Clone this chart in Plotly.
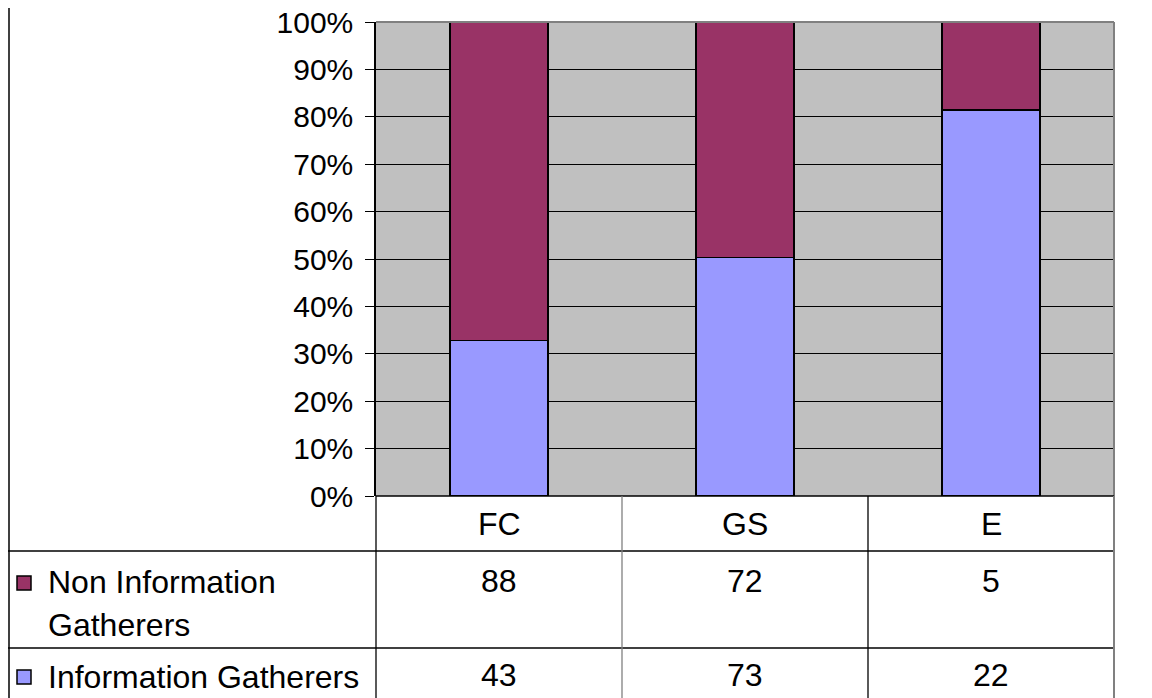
import plotly.graph_objects as go

categories = ["FC", "GS", "E"]
series_names = ["Information Gatherers", "Non Information Gatherers"]
info_gatherers = [43, 73, 22]
non_info_gatherers = [88, 72, 5]
y_ticks = [0, 10, 20, 30, 40, 50, 60, 70, 80, 90, 100]

COL_INFO = "#9999FF"
COL_NON = "#993366"
FONT = "Liberation Sans, Arial, sans-serif"
FS_TICK = 30
FS_TAB = 32

W, H = 1152, 698
OFF = 8  # page body margin
def px(x):
    return (x - OFF) / W
def py(y):
    return 1 - (y - OFF) / H

fig = go.Figure()
fig.add_trace(go.Bar(x=categories, y=info_gatherers, name=series_names[0],
                     marker=dict(color=COL_INFO, line=dict(color="black", width=1.5)),
                     width=0.4))
fig.add_trace(go.Bar(x=categories, y=non_info_gatherers, name=series_names[1],
                     marker=dict(color=COL_NON, line=dict(color="black", width=1.5)),
                     width=0.4))

x0, x1 = 376, 1114
ytop, ybot = 22, 496

fig.update_layout(
    width=W, height=H,
    margin=dict(l=0, r=0, t=0, b=0, autoexpand=False),
    paper_bgcolor="white",
    plot_bgcolor="#C0C0C0",
    barmode="stack",
    barnorm="percent",
    showlegend=False,
    font=dict(family=FONT, size=FS_TICK, color="black"),
    xaxis=dict(domain=[px(x0), px(x1)], showticklabels=False, ticks="",
               showgrid=False, zeroline=False, showline=False,
               range=[-0.5, 2.5], fixedrange=True),
    yaxis=dict(domain=[py(ybot), py(ytop)], range=[0, 100], tickvals=y_ticks,
               ticktext=[f"{v}%" for v in y_ticks],
               ticks="outside", ticklen=9, tickcolor="black", tickwidth=1,
               ticklabelstandoff=6, ticklabeloverflow="allow",
               showline=True, linecolor="black", linewidth=1.5,
               showgrid=True, gridcolor="black", gridwidth=1,
               zeroline=False, fixedrange=True,
               tickfont=dict(family=FONT, size=FS_TICK, color="black")),
)

shapes = []
def line(xa, ya, xb, yb, color="black", width=1.3):
    shapes.append(dict(type="line", xref="paper", yref="paper",
                       x0=px(xa), y0=py(ya), x1=px(xb), y1=py(yb),
                       line=dict(color=color, width=width)))

# plot area top/right border
line(x0, ytop, x1, ytop, "#808080", 2)
line(x1, ytop, x1, ybot, "#808080", 2)
line(x0, ybot, x1, ybot, "black", 1.5)

# outer left border
line(9, OFF, 9, H + OFF, "black", 1.5)
# table lines
line(OFF, 551, x1, 551)
line(OFF, 648, x1, 648)
line(376, ybot, 376, H + OFF)
line(622, ybot, 622, H + OFF, "#808080")
line(868, ybot, 868, H + OFF)
line(1114, ybot, 1114, H + OFF, "#808080", 2)

# legend squares
shapes.append(dict(type="rect", xref="paper", yref="paper",
                   x0=px(17), x1=px(31), y0=py(590), y1=py(576),
                   fillcolor=COL_NON, line=dict(color="black", width=1.5)))
shapes.append(dict(type="rect", xref="paper", yref="paper",
                   x0=px(17), x1=px(31), y0=py(684), y1=py(670),
                   fillcolor=COL_INFO, line=dict(color="black", width=1.5)))

annotations = []
def text(x, y, s, xref="paper", xanchor="center"):
    annotations.append(dict(x=x, y=py(y), xref=xref, yref="paper", text=s,
                            showarrow=False, xanchor=xanchor, yanchor="middle",
                            font=dict(family=FONT, size=FS_TAB, color="black")))

for i, c in enumerate(categories):
    text(c, 524, c, xref="x")
    text(c, 581, str(non_info_gatherers[i]), xref="x")
    text(c, 675, str(info_gatherers[i]), xref="x")

non_words = series_names[1].split(" ")
text(px(46), 582, " ".join(non_words[:2]), xanchor="left")
text(px(46), 625, non_words[2], xanchor="left")
text(px(46), 677, series_names[0], xanchor="left")

fig.update_layout(shapes=shapes, annotations=annotations)
fig.write_html("out.html")
